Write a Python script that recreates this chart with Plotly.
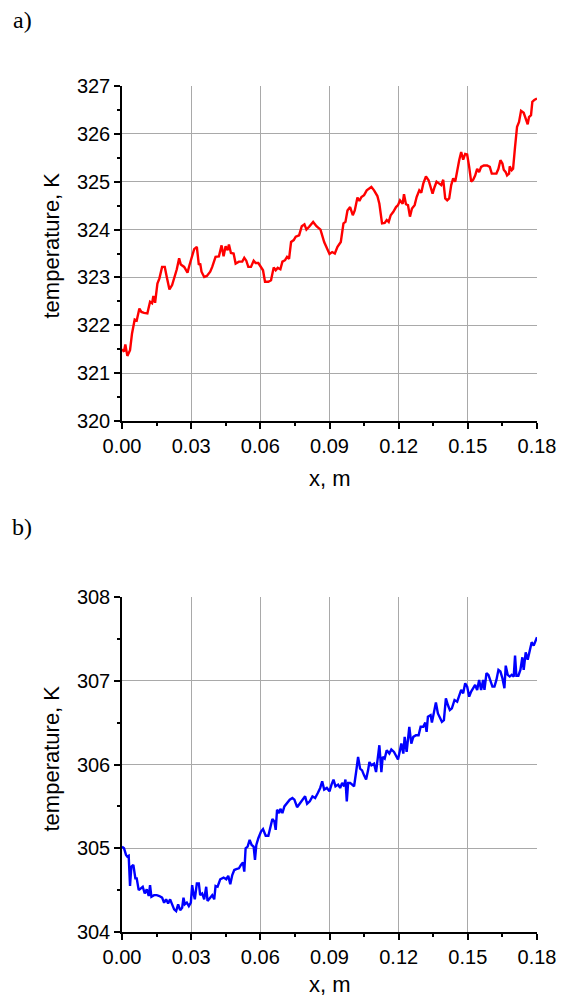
import plotly.graph_objects as go

# ---- panel a) (red) ----
x_a = [0, .00087, .00145, .00232, .00348, .00435, .00551, .00638, .00754, .00841,
       .00957, .01101, .01217, .01304, .01362, .01435, .01536, .01623, .01739, .01855,
       .01942, .02058, .02174, .0229, .02377, .02478, .02551, .02696, .02841, .02928,
       .03043, .0313, .03246, .03333, .03391, .03449, .03565, .03681, .03826, .03913,
       .04058, .04203, .04319, .04406, .04493, .0458, .04638, .04725, .04841, .04928,
       .05072, .05217, .05304, .05391, .05478, .05594, .0571, .05797, .05913, .06029,
       .06116, .06203, .06348, .06464, .0658, .06667, .06754, .0687, .06957, .07072,
       .07159, .07246, .07333, .07449, .07536, .07681, .07797, .07913, .08, .08116,
       .0829, .08435, .08609,
       .08769, .08885, .09, .09115, .09231, .09346, .0949, .09606, .09692, .09779,
       .09894, .1001, .10096, .10212, .10298, .10385, .105, .10615, .10731, .10817,
       .10933, .11077, .11163, .11221, .11279, .11394, .11481, .11567, .11654, .11769,
       .11885, .11971, .12058, .12173, .12231, .12317, .12404, .1249, .12577, .12692,
       .12779, .12894, .12981, .13067, .13183, .13298, .13385, .13471, .13558, .13644,
       .1376, .13846, .13933, .14019, .14106, .14192, .14279, .14365, .14452, .14538,
       .14625, .14712, .14798, .14885, .14971, .15058, .15144, .15231, .15317, .15404,
       .1549, .15577, .15692, .15837, .15952, .16038, .16154, .1624, .16327, .16413,
       .165, .16558, .16644, .16702, .16788, .16817, .16904, .16962, .17048, .17135,
       .17221, .17308, .17423, .1751, .17596, .17654, .1774, .17798, .17885, .18]

temp_a = [321.50, 321.45, 321.60, 321.36, 321.48, 321.83, 322.12, 322.10, 322.35, 322.28,
          322.26, 322.25, 322.49, 322.46, 322.61, 322.47, 322.87, 322.98, 323.22, 323.22,
          323.01, 322.75, 322.84, 323.01, 323.17, 323.40, 323.27, 323.22, 323.10, 323.26,
          323.43, 323.59, 323.64, 323.26, 323.29, 323.12, 323.01, 323.03, 323.12, 323.22,
          323.43, 323.44, 323.67, 323.44, 323.65, 323.57, 323.69, 323.51, 323.50, 323.29,
          323.33, 323.33, 323.41, 323.35, 323.22, 323.22, 323.35, 323.30, 323.30, 323.22,
          323.15, 322.91, 322.91, 322.94, 323.21, 323.15, 323.20, 323.17, 323.33, 323.36,
          323.43, 323.39, 323.74, 323.78, 323.85, 323.88, 324.07, 324.11, 324.00, 324.06,
          324.16, 324.07, 324.00,
          323.74, 323.60, 323.49, 323.53, 323.50, 323.64, 323.74, 324.13, 324.16, 324.40,
          324.47, 324.30, 324.40, 324.67, 324.60, 324.68, 324.72, 324.82, 324.86, 324.89,
          324.82, 324.70, 324.54, 324.27, 324.13, 324.14, 324.20, 324.16, 324.30, 324.37,
          324.47, 324.51, 324.61, 324.54, 324.74, 324.53, 324.51, 324.27, 324.44, 324.51,
          324.68, 324.82, 324.77, 324.96, 325.11, 325.03, 324.89, 324.75, 324.89, 325.00,
          324.96, 324.93, 325.04, 324.65, 324.61, 324.65, 324.93, 325.07, 325.00, 325.24,
          325.45, 325.62, 325.46, 325.58, 325.57, 325.31, 325.00, 325.04, 325.13, 325.27,
          325.20, 325.31, 325.34, 325.34, 325.31, 325.17, 325.17, 325.17, 325.27, 325.45,
          325.38, 325.25, 325.20, 325.13, 325.17, 325.32, 325.24, 325.27, 325.73, 326.15,
          326.25, 326.48, 326.44, 326.32, 326.20, 326.35, 326.39, 326.67, 326.71, 326.74]

# ---- panel b) (blue) ----
x_b = [0, .00087, .00174, .00232, .0029, .00348, .00406, .00493, .0058, .00638,
       .00725, .00812, .00899, .00986, .01072, .01159, .01217, .01275, .01391, .01507,
       .01623, .01739, .01826, .01913, .02, .02087, .02174, .02261, .02348, .02435,
       .02522, .02609, .02667, .02725, .02812, .02899, .02986, .03043, .03101, .03159,
       .03246, .03333, .03391, .03478, .03565, .03652, .0371, .03826, .03913, .04,
       .04058, .04145, .04261, .04406, .04522, .04609, .04696, .04783, .0487, .04957,
       .05072, .05159, .05246, .05304, .05362, .05449, .05536, .05623, .0571, .05768,
       .05826, .05913, .06029, .06116, .06232, .06348, .06435, .06522, .06609, .06667,
       .06725, .06812, .0687, .06957, .07043, .07159, .07275, .07391, .07478, .07594,
       .0771, .07826, .07942, .08029, .08145, .08261, .08377, .08493,
       .08596, .08683, .08769, .08885, .09, .09087, .09173, .0926, .09375, .09462,
       .09548, .09635, .09692, .0975, .09808, .09894, .09981, .10067, .10154, .1024,
       .10327, .10413, .105, .10587, .10673, .10731, .10817, .10933, .11019, .11077,
       .11163, .1125, .11308, .11394, .11481, .11596, .11683, .11798, .11885, .11971,
       .12058, .12115, .12202, .1226, .12346, .12404, .12462, .12548, .12635, .1275,
       .12865, .12952, .13067, .13154, .13212, .13269, .13385, .13442, .13529, .13615,
       .13702, .13788, .13875, .13962, .14048, .14135, .14221, .14308, .14423, .14538,
       .14625, .14712, .14798, .14885, .14971, .15058, .15144, .15231, .15317, .15404,
       .1549, .15577, .15663, .15721, .15808, .15894, .15981, .16067, .16154, .1624,
       .16327, .16413, .165, .16587, .16644, .16731, .16817, .16904, .1699, .17048,
       .17106, .17192, .17279, .17365, .17423, .1751, .17596, .17683, .17769, .17856,
       .17942, .18]

temp_b = [305.02, 305.00, 304.92, 304.90, 304.91, 304.55, 304.78, 304.80, 304.64, 304.64,
          304.50, 304.52, 304.54, 304.46, 304.51, 304.43, 304.56, 304.42, 304.44, 304.44,
          304.43, 304.41, 304.35, 304.39, 304.34, 304.39, 304.33, 304.27, 304.25, 304.33,
          304.26, 304.29, 304.41, 304.33, 304.35, 304.31, 304.35, 304.56, 304.46, 304.39,
          304.58, 304.58, 304.44, 304.46, 304.39, 304.54, 304.37, 304.41, 304.44, 304.39,
          304.55, 304.54, 304.63, 304.65, 304.63, 304.67, 304.57, 304.68, 304.74, 304.75,
          304.76, 304.80, 304.83, 304.72, 305.00, 305.02, 305.10, 305.04, 305.02, 304.86,
          305.04, 305.12, 305.20, 305.23, 305.15, 305.15, 305.26, 305.35, 305.32, 305.22,
          305.46, 305.42, 305.47, 305.42, 305.50, 305.54, 305.58, 305.60, 305.58, 305.49,
          305.53, 305.58, 305.62, 305.53, 305.56, 305.62, 305.60, 305.66,
          305.72, 305.80, 305.70, 305.72, 305.68, 305.76, 305.82, 305.74, 305.76, 305.72,
          305.78, 305.74, 305.82, 305.56, 305.78, 305.78, 305.76, 305.74, 305.91, 306.09,
          305.95, 305.93, 305.87, 305.82, 305.93, 306.03, 305.99, 306.01, 305.91, 306.03,
          306.23, 305.91, 306.09, 306.07, 306.17, 306.13, 306.18, 306.15, 306.11, 306.06,
          306.17, 306.25, 306.13, 306.33, 306.15, 306.33, 306.45, 306.25, 306.33, 306.35,
          306.35, 306.45, 306.45, 306.50, 306.39, 306.57, 306.59, 306.50, 306.61, 306.74,
          306.61, 306.55, 306.51, 306.53, 306.79, 306.71, 306.65, 306.67, 306.77, 306.75,
          306.81, 306.89, 306.85, 306.97, 306.93, 306.81, 306.87, 306.91, 306.95, 306.89,
          307.01, 306.89, 307.01, 306.89, 307.09, 307.07, 307.01, 306.93, 306.93, 307.01,
          307.13, 307.11, 307.03, 306.91, 307.18, 307.07, 307.05, 307.07, 307.05, 307.30,
          307.06, 307.06, 307.13, 307.28, 307.13, 307.34, 307.25, 307.36, 307.46, 307.42,
          307.49, 307.52]

x_ticks = [0.00, 0.03, 0.06, 0.09, 0.12, 0.15, 0.18]
x_tick_text = ["0.00", "0.03", "0.06", "0.09", "0.12", "0.15", "0.18"]
y_ticks_a = [320, 321, 322, 323, 324, 325, 326, 327]
y_ticks_b = [304, 305, 306, 307, 308]

FONT = "Liberation Sans, Arial, sans-serif"
SERIF = "Liberation Serif, Times New Roman, serif"
GRID = "#a9a9a9"
TICKFONT = dict(family=FONT, size=20, color="black")

fig = go.Figure()
fig.add_trace(go.Scatter(x=x_a, y=temp_a, mode="lines",
                         line=dict(color="#ff0000", width=2.4),
                         xaxis="x", yaxis="y", showlegend=False))
fig.add_trace(go.Scatter(x=x_b, y=temp_b, mode="lines",
                         line=dict(color="#0000ff", width=2.4),
                         xaxis="x2", yaxis="y2", showlegend=False))


def xax(anchor):
    return dict(range=[0, 0.18], tickvals=x_ticks, ticktext=x_tick_text, domain=[0, 1],
                showline=True, linecolor="black", linewidth=1.5, mirror=False,
                showgrid=True, gridcolor=GRID, gridwidth=1, zeroline=False,
                ticks="outside", ticklen=6, tickwidth=1.5, tickcolor="black",
                minor=dict(dtick=0.015, tick0=0, ticks="outside", ticklen=3,
                           tickwidth=1.5, tickcolor="black", showgrid=False),
                tickfont=TICKFONT, anchor=anchor, fixedrange=True, automargin=False)


def yax(rng, vals, anchor, domain):
    return dict(range=rng, tickvals=vals, domain=domain,
                showline=True, linecolor="black", linewidth=1.5, mirror=False,
                showgrid=True, gridcolor=GRID, gridwidth=1, zeroline=False,
                ticks="outside", ticklen=6, tickwidth=1.5, tickcolor="black",
                minor=dict(dtick=0.5, tick0=rng[0], ticks="outside", ticklen=3,
                           tickwidth=1.5, tickcolor="black", showgrid=False),
                tickfont=TICKFONT, anchor=anchor, fixedrange=True, automargin=False)


L, R, T, B = 122, 26, 86, 66
W, H = 563, 998
PH = H - T - B
PW = W - L - R


def px_x(p):
    return (p - L) / PW


def px_y(p):
    return (H - B - p) / PH


top_dom = [px_y(421), 1.0]
bot_dom = [0.0, px_y(597)]

fig.update_layout(
    width=W, height=H,
    margin=dict(l=L, r=R, t=T, b=B, autoexpand=False),
    paper_bgcolor="white", plot_bgcolor="white",
    xaxis=xax("y"),
    yaxis=yax([320, 327], y_ticks_a, "x", top_dom),
    xaxis2=xax("y2"),
    yaxis2=yax([304, 308], y_ticks_b, "x2", bot_dom),
)

ann_font = dict(family=FONT, size=22, color="black")
serif_font = dict(family=SERIF, size=24, color="black")
annotations = [
    dict(text="a)", x=px_x(22), y=px_y(20), font=serif_font),
    dict(text="b)", x=px_x(22), y=px_y(527), font=serif_font),
    dict(text="x, m", x=px_x(330), y=px_y(478), font=ann_font),
    dict(text="x, m", x=px_x(330), y=px_y(985), font=ann_font),
    dict(text="temperature, K", x=px_x(51), y=px_y(245.5), font=ann_font, textangle=-90),
    dict(text="temperature, K", x=px_x(51), y=px_y(758.5), font=ann_font, textangle=-90),
]
for a in annotations:
    a.update(xref="paper", yref="paper", showarrow=False,
             xanchor="center", yanchor="middle")
fig.update_layout(annotations=annotations)

fig.write_html("out.html", config={"displayModeBar": False},
               post_script="document.body.style.margin='0';")
